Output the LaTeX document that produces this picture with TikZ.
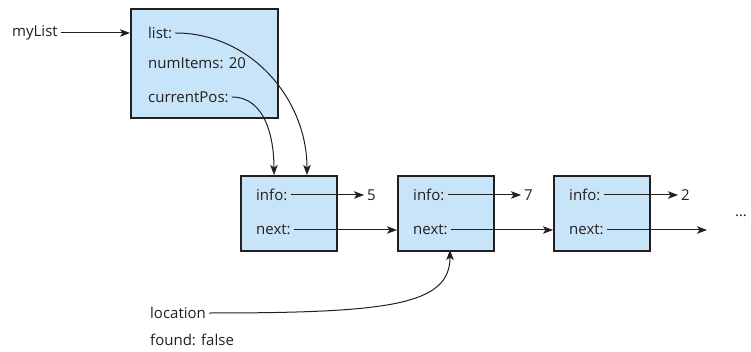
\documentclass[tikz,border=0pt]{standalone}
\usepackage{fontspec}
\setmainfont{Open Sans}
\usetikzlibrary{arrows.meta}
\definecolor{boxblue}{HTML}{C7E4F8}
\definecolor{ink}{HTML}{231F20}
\tikzset{
  recbox/.style={draw=ink, line width=2.2pt, fill=boxblue, anchor=north west, inner sep=0pt},
  field/.style={anchor=west, inner sep=3pt, text=ink, font=\fontsize{15}{18}\selectfont},
  ptr/.style={draw=ink, line width=1pt, -{Stealth[length=10pt,width=7.5pt,inset=2.5pt]}}
}
\begin{document}
\begin{tikzpicture}[x=1pt, y=-1pt]
\useasboundingbox (0,0) rectangle (751,352);
% list header record
\node[recbox, minimum width=147pt, minimum height=109pt] (head) at (130,8) {};
\node[field] (myList) at (9,33) {myList};
\node[field] (list) at (145,33) {list:};
\node[field] (numItems) at (145,63) {numItems: 20};
\node[field] (currentPos) at (145,97) {currentPos:};
% the nodes of the chain
\node[recbox, minimum width=96pt, minimum height=75pt] (n1) at (240,175) {};
\node[recbox, minimum width=96pt, minimum height=75pt] (n2) at (397,175) {};
\node[recbox, minimum width=96pt, minimum height=75pt] (n3) at (553,175) {};
\node[field] (info1) at (253,195) {info:};
\node[field] (next1) at (253,230) {next:};
\node[field] (info2) at (410,195) {info:};
\node[field] (next2) at (410,230) {next:};
\node[field] (info3) at (566,195) {info:};
\node[field] (next3) at (566,230) {next:};
\node[field] (val1) at (364,195) {5};
\node[field] (val2) at (521,195) {7};
\node[field] (val3) at (678,195) {2};
\node[field] (more) at (732,216) {\dots};
% locals of the search
\node[field] (location) at (147,313) {location};
\node[field] (found) at (147,340) {found: false};
\coordinate (n1a) at (274,175);
\coordinate (n1b) at (307,175);
\coordinate (n2b) at (450,250);
\coordinate (tail) at (707,230);
\draw[ptr] (myList) -- (head.west |- myList);
\draw[ptr] (list.east) to[out=0, in=90] (n1b);
\draw[ptr] (currentPos.east) to[out=0, in=90] (n1a);
\draw[ptr] (info1) -- (val1);
\draw[ptr] (info2) -- (val2);
\draw[ptr] (info3) -- (val3);
\draw[ptr] (next1) -- (n2.west |- next1);
\draw[ptr] (next2) -- (n3.west |- next2);
\draw[ptr] (next3) -- (tail);
\draw[ptr] (location.east) .. controls (390,313) and (450,305) .. (n2b);
\end{tikzpicture}
\end{document}
